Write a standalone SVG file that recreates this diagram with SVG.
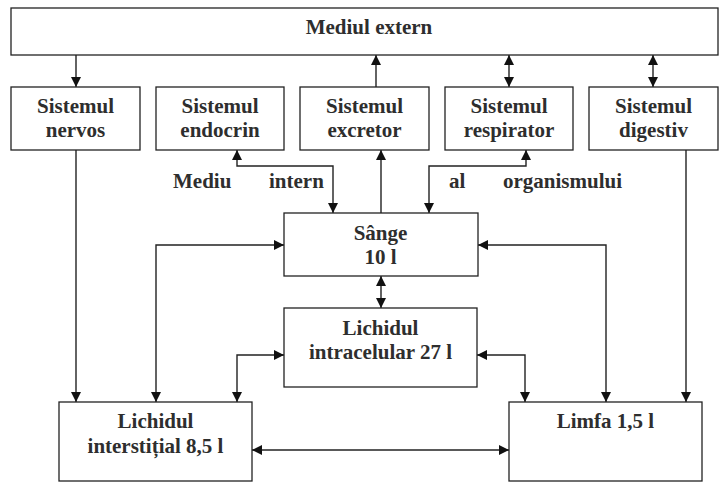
<svg xmlns="http://www.w3.org/2000/svg" width="720" height="485" viewBox="0 0 720 485">
<style>
.box{fill:#fff;stroke:#222;stroke-width:1.3}
.t{font-family:"Liberation Serif","Times New Roman",serif;font-weight:bold;font-size:21px;fill:#2e2e2e;text-anchor:middle}
.ts{font-family:"Liberation Serif","Times New Roman",serif;font-weight:bold;font-size:21px;fill:#2e2e2e}
.c{fill:none;stroke:#222;stroke-width:1.4}
.a{marker-end:url(#ah)}
.b{marker-start:url(#ah);marker-end:url(#ah)}
</style>
<defs>
<marker id="ah" viewBox="0 0 10 10" refX="10" refY="5" markerWidth="10" markerHeight="10" markerUnits="userSpaceOnUse" orient="auto-start-reverse">
<path d="M0,0 L10,5 L0,10 z" fill="#111"/>
</marker>
</defs>
<rect width="720" height="485" fill="#fff"/>
<g id="connectors">
<path class="c a" d="M76,55 V87"/>
<path class="c a" d="M376,87 V55"/>
<path class="c b" d="M509,55 V87"/>
<path class="c b" d="M653,55 V87"/>
<path class="c a" d="M76,150 V402"/>
<path class="c a" d="M686,150 V402"/>
<path class="c b" d="M237,150 V166 H333 V213"/>
<path class="c a" d="M381,213 V150"/>
<path class="c b" d="M526,150 V166 H429 V213"/>
<path class="c b" d="M284,245 H156 V402"/>
<path class="c b" d="M478,245 H606 V402"/>
<path class="c b" d="M381,276 V308"/>
<path class="c b" d="M284,355 H237 V402"/>
<path class="c b" d="M477,355 H525 V402"/>
<path class="c b" d="M252,450 H509"/>
</g>
<g id="mediul-extern">
<rect class="box" x="11" y="8" width="707" height="47"/>
<text class="t" x="369" y="34">Mediul extern</text>
</g>
<g id="sistemul-nervos">
<rect class="box" x="11" y="87" width="129" height="63"/>
<text class="t" x="75.5" y="113">Sistemul</text>
<text class="t" x="75.5" y="137">nervos</text>
</g>
<g id="sistemul-endocrin">
<rect class="box" x="156" y="87" width="128" height="63"/>
<text class="t" x="220" y="113">Sistemul</text>
<text class="t" x="220" y="137">endocrin</text>
</g>
<g id="sistemul-excretor">
<rect class="box" x="300" y="87" width="129" height="63"/>
<text class="t" x="364.5" y="113">Sistemul</text>
<text class="t" x="364.5" y="137">excretor</text>
</g>
<g id="sistemul-respirator">
<rect class="box" x="445" y="87" width="128" height="63"/>
<text class="t" x="509" y="113">Sistemul</text>
<text class="t" x="509" y="137">respirator</text>
</g>
<g id="sistemul-digestiv">
<rect class="box" x="589" y="87" width="129" height="63"/>
<text class="t" x="653.5" y="113">Sistemul</text>
<text class="t" x="653.5" y="137">digestiv</text>
</g>
<g id="mediu-intern-label">
<text class="ts" x="173" y="188">Mediu</text>
<text class="ts" x="269" y="188">intern</text>
<text class="ts" x="449" y="188">al</text>
<text class="ts" x="503" y="188">organismului</text>
</g>
<g id="sange">
<rect class="box" x="284" y="213" width="194" height="63"/>
<text class="t" x="380.5" y="240">Sânge</text>
<text class="t" x="380.5" y="264">10 l</text>
</g>
<g id="lichidul-intracelular">
<rect class="box" x="284" y="308" width="193" height="79"/>
<text class="t" x="380.5" y="335">Lichidul</text>
<text class="t" x="380.5" y="359">intracelular 27 l</text>
</g>
<g id="lichidul-interstitial">
<rect class="box" x="59" y="402" width="193" height="79"/>
<text class="t" x="155.5" y="428">Lichidul</text>
<text class="t" x="155.5" y="453">interstițial 8,5 l</text>
</g>
<g id="limfa">
<rect class="box" x="509" y="402" width="193" height="79"/>
<text class="t" x="605.5" y="428">Limfa 1,5 l</text>
</g>
</svg>
